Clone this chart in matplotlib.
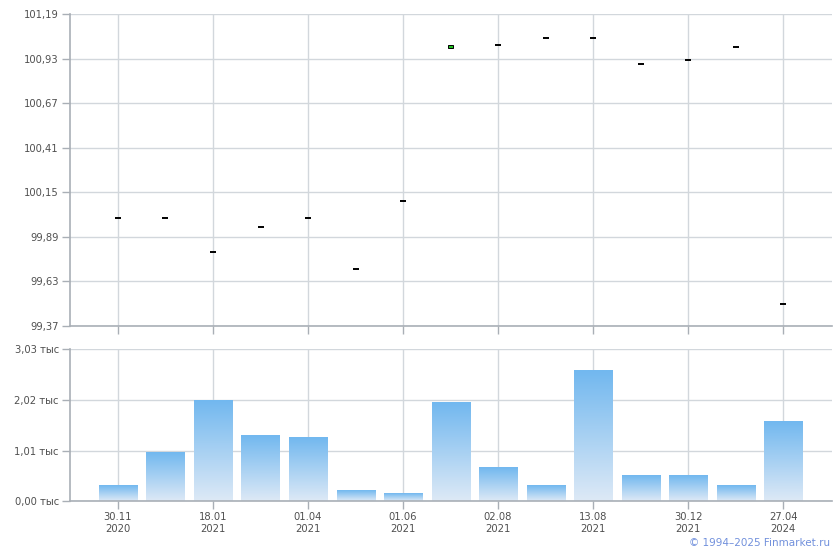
import numpy as np
import matplotlib.pyplot as plt
from matplotlib.ticker import FuncFormatter
from matplotlib.colors import LinearSegmentedColormap

# data
x_labels = ["30.11\n2020", "", "18.01\n2021", "", "01.04\n2021", "", "01.06\n2021", "",
            "02.08\n2021", "", "13.08\n2021", "", "30.12\n2021", "", "27.04\n2024"]
price_open = [100.00, 100.00, 99.80, 99.95, 100.00, 99.70, 100.10, 100.992,
              101.01, 101.05, 101.05, 100.90, 100.92, 101.00, 99.50]
price_close = [100.00, 100.00, 99.80, 99.95, 100.00, 99.70, 100.10, 101.008,
               101.01, 101.05, 101.05, 100.90, 100.92, 101.00, 99.50]
volume = [300, 960, 2000, 1300, 1260, 200, 150, 1960, 660, 300, 2600, 500, 500, 300, 1580]
price_ticks = [99.37, 99.63, 99.89, 100.15, 100.41, 100.67, 100.93, 101.19]
volume_ticks = [0, 1010, 2020, 3030]

grid_c = "#d2d7dc"
spine_c = "#a9afb6"
text_c = "#505050"
fs = 7.2

x = np.arange(len(volume))

fig = plt.figure(figsize=(8.4, 5.5), dpi=100)
ax1 = fig.add_axes([70/840, 1-326/550, 762/840, 312/550])
ax2 = fig.add_axes([70/840, 1-501.3/550, 762/840, 152/550])

for ax in (ax1, ax2):
    ax.set_xlim(-1.01, 15.03)
    ax.set_xticks(x[::2])
    ax.grid(True, color=grid_c, linewidth=1)
    ax.set_axisbelow(True)
    for s in ("top", "right"):
        ax.spines[s].set_visible(False)
    for s in ("left", "bottom"):
        ax.spines[s].set_color(spine_c)
        ax.spines[s].set_linewidth(1.2)
    ax.tick_params(colors=spine_c, labelcolor=text_c, labelsize=fs, length=6, width=1, pad=2)

# price panel
ax1.set_ylim(99.37, 101.19)
ax1.set_yticks(price_ticks)
ax1.yaxis.set_major_formatter(FuncFormatter(lambda v, p: f"{v:.2f}".replace(".", ",")))
ax1.set_xticklabels([])
po = np.array(price_open)
pc = np.array(price_close)
flat = po == pc
ax1.scatter(x[flat], po[flat], marker="_", s=16, color="black", linewidths=1.4, zorder=3)
up = pc > po
ax1.bar(x[up], pc[up] - po[up], bottom=po[up], width=0.1, color="#1fc01f",
        edgecolor="black", linewidth=0.7, zorder=3)

# volume panel with gradient bars
ax2.set_ylim(0, 3030)
ax2.set_yticks(volume_ticks)
ax2.yaxis.set_major_formatter(FuncFormatter(lambda v, p: f"{v/1000:.2f} тыс".replace(".", ",")))
ax2.set_xticks(x[::2])
ax2.set_xticklabels(x_labels[::2], fontsize=fs, color=text_c, linespacing=1.15)
grad = np.linspace(0, 1, 100).reshape(-1, 1)
cmap = LinearSegmentedColormap.from_list("vol", ["#dde9f6", "#72b8ef"])
w = 0.8
for xi, v in zip(x, volume):
    ax2.imshow(grad, extent=[xi - w/2, xi + w/2, 0, v], origin="lower", cmap=cmap,
               aspect="auto", zorder=2)
ax2.set_xlim(-1.01, 15.03)
ax2.set_ylim(0, 3030)

fig.text(830/840, 1-543/550, "© 1994–2025 Finmarket.ru", ha="right", va="center",
         fontsize=7.5, color="#7190dc")

fig.savefig("out.png", dpi=100)
